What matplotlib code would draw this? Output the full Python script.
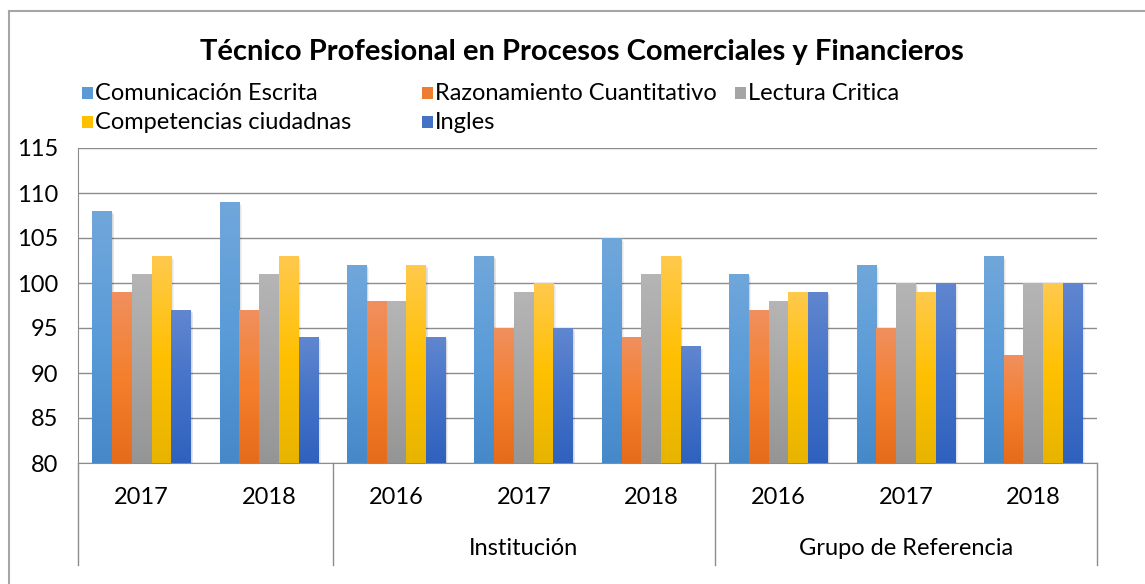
import numpy as np
import matplotlib
matplotlib.use("Agg")
import matplotlib.pyplot as plt
from matplotlib.colors import LinearSegmentedColormap
from matplotlib.patches import Rectangle
from matplotlib.lines import Line2D
from matplotlib.transforms import blended_transform_factory

# data
years = ["2017", "2018", "2016", "2017", "2018", "2016", "2017", "2018"]
groups = [("", 0, 2), ("Institución", 2, 5), ("Grupo de Referencia", 5, 8)]
series = ["Comunicación Escrita", "Razonamiento Cuantitativo", "Lectura Critica",
          "Competencias ciudadnas", "Ingles"]
comunicacion = [108, 109, 102, 103, 105, 101, 102, 103]
razonamiento = [99, 97, 98, 95, 94, 97, 95, 92]
lectura = [101, 101, 98, 99, 101, 98, 100, 100]
competencias = [103, 103, 102, 100, 103, 99, 99, 100]
ingles = [97, 94, 94, 95, 93, 99, 100, 100]
values = [comunicacion, razonamiento, lectura, competencias, ingles]

# gradient colours per series: top, middle, bottom
gradients = [
    ("#70A7DB", "#5A9BD8", "#4689C9"),
    ("#F08F5E", "#F47F2C", "#E56C1A"),
    ("#B5B5B5", "#A6A6A6", "#959595"),
    ("#FFC94C", "#FFC000", "#E8B400"),
    ("#6086CF", "#4472C8", "#2F62BE"),
]
legend_colors = ["#5B9BD5", "#ED7D31", "#A5A5A5", "#FFC000", "#4472C4"]

plt.rcParams["font.family"] = ["Lato", "DejaVu Sans"]
FS = 17

W, H = 1145, 584
fig = plt.figure(figsize=(W / 100, H / 100), dpi=100)
ax = fig.add_axes([78 / W, 1 - 463 / H, (1097 - 78) / W, (463 - 148) / H])

n = len(years)
x = np.arange(n)
width = 0.155
base = 80

for k, (vals, grad) in enumerate(zip(values, gradients)):
    cmap = LinearSegmentedColormap.from_list(f"g{k}", list(grad[::-1]))
    bars = ax.bar(x + (k - 2) * width, np.array(vals) - base, bottom=base,
                  width=width, color="none", zorder=3)
    for b in bars:
        x0, y0 = b.get_x(), b.get_y()
        im = ax.imshow(np.linspace(0, 1, 100).reshape(-1, 1)[::-1], cmap=cmap,
                       extent=[x0, x0 + b.get_width(), y0, y0 + b.get_height()],
                       aspect="auto", zorder=3)
        im.set_clip_path(b)
        # soft shadow
        for s in range(1, 4):
            ax.add_patch(Rectangle((x0 + 0.006 * s, y0), b.get_width(), b.get_height() - 0.12 * s,
                                   facecolor="black", alpha=0.05, edgecolor="none", zorder=2))

ax.set_xlim(-0.5, n - 0.5)
ax.set_ylim(80, 115)
ax.set_yticks(range(80, 116, 5))
ax.yaxis.grid(True, color="#8C8C8C", linewidth=1.0, zorder=0)
ax.set_axisbelow(True)
ax.tick_params(axis="y", length=0, pad=14, labelsize=FS)
ax.set_xticks([])
for sp in ["top", "right"]:
    ax.spines[sp].set_visible(False)
ax.spines["left"].set_color("#8C8C8C")
ax.spines["bottom"].set_color("#8C8C8C")

# two-level category axis
tr = blended_transform_factory(ax.transData, ax.transAxes)
for i, yr in enumerate(years):
    ax.text(i, -0.108, yr, transform=tr, ha="center", va="center", fontsize=FS)
for name, a, b in groups:
    ax.text((a + b - 1) / 2, -0.27, name, transform=tr, ha="center", va="center", fontsize=FS)
for edge in [0, 2, 5, 8]:
    ax.add_line(Line2D([edge - 0.5, edge - 0.5], [0, -0.324], transform=tr,
                       color="#8C8C8C", linewidth=1.0, clip_on=False))

# title
fig.text(582 / W, 1 - 52 / H, "Técnico Profesional en Procesos Comerciales y Financieros",
         ha="center", va="center", fontsize=21, fontweight="bold")

# legend laid out like the original (3 columns, row-major)
leg_pos = [(82, 93), (422, 93), (735, 93), (82, 122), (422, 122)]
for (px, py), name, col in zip(leg_pos, series, legend_colors):
    fig.patches.append(Rectangle((px / W, 1 - (py + 6) / H), 11 / W, 12 / H,
                                 facecolor=col, edgecolor="none", transform=fig.transFigure))
    fig.text((px + 13) / W, 1 - py / H, name, ha="left", va="center", fontsize=FS)

# outer chart frame (top and left edges visible)
fig.add_artist(Line2D([9 / W, 1], [1 - 11 / H, 1 - 11 / H], color="#A6A6A6", linewidth=1.5))
fig.add_artist(Line2D([9 / W, 9 / W], [0, 1 - 11 / H], color="#A6A6A6", linewidth=1.5))

fig.savefig("out.png", dpi=100)
